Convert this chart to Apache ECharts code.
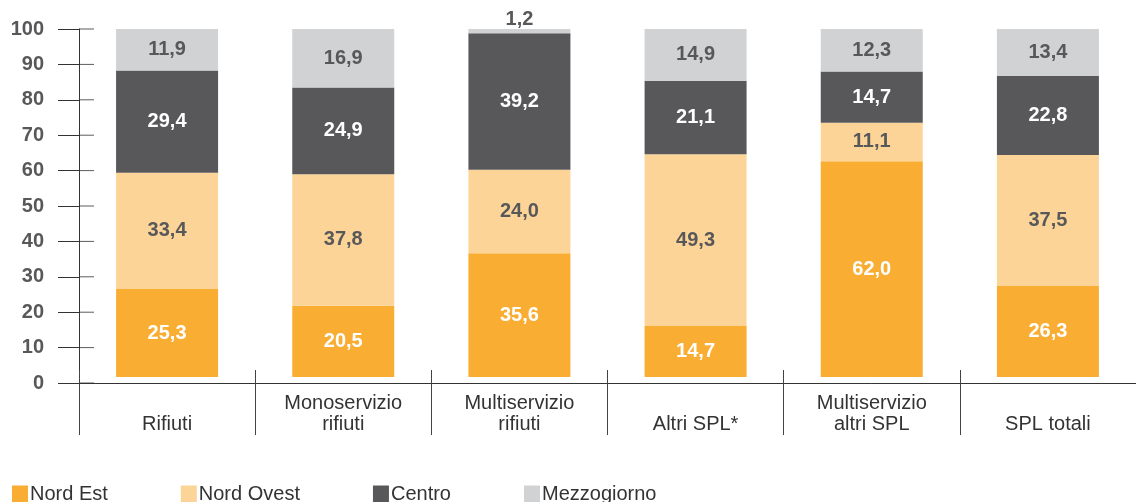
<!DOCTYPE html>
<html>
<head>
<meta charset="utf-8">
<script src="https://cdn.jsdelivr.net/npm/echarts@6/dist/echarts.min.js"></script>
<style>
  html, body { margin: 0; padding: 0; background: #ffffff; }
  #chart { width: 1136px; height: 502px; }
</style>
</head>
<body>
<div id="chart"></div>
<script>
// Categories (line breaks are part of the axis wording)
const categories = [
  'Rifiuti',
  'Monoservizio\nrifiuti',
  'Multiservizio\nrifiuti',
  'Altri SPL*',
  'Multiservizio\naltri SPL',
  'SPL totali'
];

// Percentage share by area
const nordEst     = [25.3, 20.5, 35.6, 14.7, 62.0, 26.3];
const nordOvest   = [33.4, 37.8, 24.0, 49.3, 11.1, 37.5];
const centro      = [29.4, 24.9, 39.2, 21.1, 14.7, 22.8];
const mezzogiorno = [11.9, 16.9, 1.2, 14.9, 12.3, 13.4];

const seriesNames = ['Nord Est', 'Nord Ovest', 'Centro', 'Mezzogiorno'];

// Value axis ticks
const yTicks = [0, 10, 20, 30, 40, 50, 60, 70, 80, 90, 100];
const yMin = yTicks[0], yMax = yTicks[yTicks.length - 1], yStep = yTicks[1] - yTicks[0];

const FONT = 'Liberation Sans, Arial, Helvetica, sans-serif';
const colors = ['#F9AE33', '#FDD497', '#58585A', '#D1D2D4'];
const labelColors = ['#ffffff', '#58585A', '#ffffff', '#58585A'];

const GRID_LEFT = 79, GRID_TOP = 29, GRID_BOTTOM = 119;

const fmt = v => v.toFixed(1).replace('.', ',');

function makeSeries(name, values, idx) {
  return {
    name: name,
    type: 'bar',
    stack: 'total',
    xAxisIndex: 0,
    yAxisIndex: 1,
    barWidth: 102,
    itemStyle: { color: colors[idx] },
    label: {
      show: true,
      position: 'inside',
      color: labelColors[idx],
      fontFamily: FONT,
      fontWeight: 'bold',
      fontSize: 20,
      formatter: p => fmt(p.value)
    },
    data: values.map(v => {
      // thin segments carry their label above the bar
      if (v < 3) {
        return { value: v, label: { position: 'top', distance: 0, color: '#58585A' } };
      }
      return v;
    })
  };
}

const chart = echarts.init(document.getElementById('chart'), null, { renderer: 'canvas' });

chart.setOption({
  animation: false,
  textStyle: { fontFamily: FONT },
  grid: [
    { left: GRID_LEFT, right: 0, top: GRID_TOP, bottom: GRID_BOTTOM, containLabel: false },
    // narrow helper grid carrying the inner half of the crossing ticks
    { left: GRID_LEFT, width: 20, top: GRID_TOP, bottom: GRID_BOTTOM, containLabel: false }
  ],
  legend: {
    data: seriesNames,
    left: 12,
    top: 484,
    padding: 0,
    itemWidth: 16,
    itemHeight: 17,
    itemGap: 73,
    icon: 'rect',
    textStyle: { fontFamily: FONT, fontSize: 20, color: '#333333', padding: [0, 0, 0, -3] }
  },
  xAxis: [
    {
      type: 'category',
      gridIndex: 0,
      data: categories,
      axisLine: { show: true, onZero: false, lineStyle: { color: '#333333', width: 1 } },
      axisTick: { show: true, length: 52, lineStyle: { color: '#444444', width: 1 } },
      axisLabel: {
        margin: 10,
        fontFamily: FONT,
        fontSize: 20,
        lineHeight: 21,
        color: '#333333',
        formatter: v => (v.indexOf('\n') >= 0 ? v : '\n' + v)
      },
      splitLine: { show: false }
    },
    {
      // short upward separator stubs between categories
      type: 'category',
      gridIndex: 0,
      data: categories,
      position: 'bottom',
      axisLine: { show: false, onZero: false },
      axisTick: { show: true, inside: true, length: 13, lineStyle: { color: '#444444', width: 1 } },
      axisLabel: { show: false },
      splitLine: { show: false }
    },
    {
      type: 'value',
      gridIndex: 1,
      min: 0, max: 1,
      show: false
    }
  ],
  yAxis: [
    {
      type: 'value',
      gridIndex: 0,
      position: 'left',
      min: yMin, max: yMax, interval: yStep,
      axisLine: { show: true, onZero: false, lineStyle: { color: '#333333', width: 1 } },
      axisTick: { show: true, length: 21, lineStyle: { color: '#333333', width: 1 } },
      axisLabel: {
        margin: 35,
        fontFamily: FONT,
        fontWeight: 'bold',
        fontSize: 20,
        color: '#58585A'
      },
      splitLine: { show: false }
    },
    {
      // bar scale: bars sit slightly above the zero line
      type: 'value',
      gridIndex: 0,
      position: 'right',
      min: -1.7, max: yMax,
      show: false,
      splitLine: { show: false }
    },
    {
      type: 'value',
      gridIndex: 1,
      min: yMin, max: yMax,
      show: false
    }
  ],
  series: [
    makeSeries(seriesNames[0], nordEst, 0),
    makeSeries(seriesNames[1], nordOvest, 1),
    makeSeries(seriesNames[2], centro, 2),
    makeSeries(seriesNames[3], mezzogiorno, 3),
    {
      // inner half of the crossing tick marks on the value axis
      name: 'ticks',
      type: 'scatter',
      xAxisIndex: 2,
      yAxisIndex: 2,
      silent: true,
      symbol: 'rect',
      symbolSize: [15, 1],
      symbolOffset: [7.5, 0],
      itemStyle: { color: '#333333' },
      data: yTicks.map(v => [0, v])
    }
  ]
});
</script>
</body>
</html>
